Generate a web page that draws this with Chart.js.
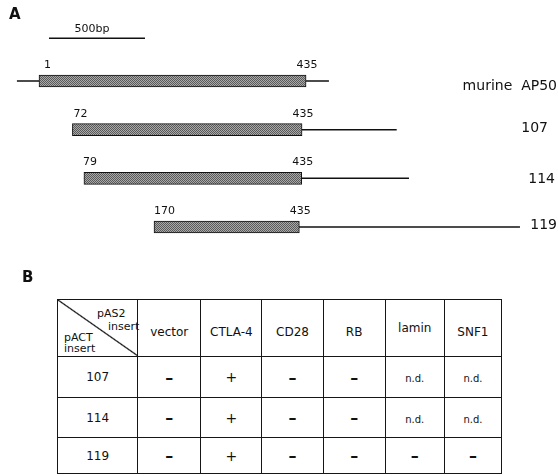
<!DOCTYPE html>
<html>
<head>
<meta charset="utf-8">
<script src="https://cdn.jsdelivr.net/npm/chart.js@4/dist/chart.umd.min.js"></script>
<style>
  html, body { margin: 0; padding: 0; background: #fff; }
  #wrap { position: relative; width: 558px; height: 476px; overflow: hidden; font-family: "DejaVu Sans", sans-serif; color: #111; }
  #cv { position: absolute; left: 0; top: 0; }
  .panel { position: absolute; font-weight: bold; font-size: 15px; font-family: "DejaVu Sans", sans-serif; }
  #tbl { position: absolute; left: 57px; top: 299px; border-collapse: collapse; table-layout: fixed; width: 445px; }
  #tbl td { border: 1.6px solid #161616; text-align: center; vertical-align: middle; font-size: 12px; padding: 0; }
  #tbl tr.hdr td { padding-top: 8px; }
  #tbl tr.hdr td.corner { padding: 0; }
  #tbl td.nd { font-size: 10px; padding-top: 3px; }
  #tbl td.neg { font-weight: bold; font-size: 16px; }
  #tbl td.pos { font-size: 14px; }
  .corner-box { position: relative; width: 80px; height: 56px;
    background: linear-gradient(to top right, transparent calc(50% - 1.2px), #111 50%, transparent calc(50% + 1.2px)); }
  .corner-box span { position: absolute; font-size: 11px; line-height: 11px; white-space: nowrap; }
</style>
</head>
<body>
<div id="wrap">
  <canvas id="cv" width="558" height="260"></canvas>
  <div class="panel" style="left:9px; top:5px;">A</div>
  <div class="panel" style="left:22px; top:268px;">B</div>
  <table id="tbl"></table>
</div>
<script>
// ---------- Panel A data (positions in bp) ----------
const categories   = ['murine  AP50', '107', '114', '119'];
const insertStart  = [0, 174, 234, 599];
const insertEnd    = [1391, 1370, 1368, 1356];
const seqStart     = [-115, 174, 234, 599];
const seqEnd       = [1510, 1863, 1927, 2505];
const startLabels  = ['1', '72', '79', '170'];
const endLabels    = ['435', '435', '435', '435'];
const scaleBar     = [52, 552];
const scaleBarLabel = '500bp';

// ---------- Panel B data ----------
const colHeaders = ['vector', 'CTLA-4', 'CD28', 'RB', 'lamin', 'SNF1'];
const rowHeaders = ['107', '114', '119'];
const results = [
  ['-', '+', '-', '-', 'n.d.', 'n.d.'],
  ['-', '+', '-', '-', 'n.d.', 'n.d.'],
  ['-', '+', '-', '-', '-', '-']
];

// ---------- layout (not data) ----------
const scaleBarRow = -0.88;
const startLabelDx = [5, 1, -1, 0];
const rowLabelRight = [557, 548, 555, 557];
const rowLabelDy = [5, -1, 1, -2];

// stipple pattern for the insert bars
function makePattern() {
  const c = document.createElement('canvas');
  c.width = 2; c.height = 2;
  const g = c.getContext('2d');
  g.fillStyle = '#a8a8a8'; g.fillRect(0, 0, 2, 2);
  g.fillStyle = '#5a5a5a'; g.fillRect(0, 0, 1, 1); g.fillRect(1, 1, 1, 1);
  return document.getElementById('cv').getContext('2d').createPattern(c, 'repeat');
}

const datasets = [];
datasets.push({
  type: 'bar',
  label: 'inserts',
  data: categories.map((c, i) => ({ x: [insertStart[i], insertEnd[i]], y: i })),
  backgroundColor: makePattern(),
  borderColor: '#111',
  borderWidth: 1,
  borderSkipped: false,
  barThickness: 12,
  order: 0
});
categories.forEach((c, i) => {
  datasets.push({
    type: 'line',
    label: c,
    data: [{ x: seqStart[i], y: i }, { x: seqEnd[i], y: i }],
    borderColor: '#111',
    borderWidth: 1.5,
    pointRadius: 0,
    order: 2
  });
});
datasets.push({
  type: 'line',
  label: 'scale',
  data: [{ x: scaleBar[0], y: scaleBarRow }, { x: scaleBar[1], y: scaleBarRow }],
  borderColor: '#111',
  borderWidth: 1.5,
  pointRadius: 0,
  order: 2
});

const labelPlugin = {
  id: 'labels',
  afterDatasetsDraw(chart) {
    const ctx = chart.ctx, xs = chart.scales.x, ys = chart.scales.y;
    ctx.save();
    ctx.fillStyle = '#111';
    ctx.textBaseline = 'alphabetic';
    ctx.font = '11px "DejaVu Sans", sans-serif';
    categories.forEach((c, i) => {
      const y = ys.getPixelForValue(i);
      ctx.textAlign = 'left';
      ctx.fillText(startLabels[i], xs.getPixelForValue(insertStart[i]) + startLabelDx[i], y - 13);
      ctx.textAlign = 'center';
      ctx.fillText(endLabels[i], xs.getPixelForValue(insertEnd[i]) + 1, y - 13);
    });
    ctx.font = '14px "DejaVu Sans", sans-serif';
    ctx.textAlign = 'right';
    ctx.textBaseline = 'middle';
    categories.forEach((c, i) => {
      const y = ys.getPixelForValue(i);
      ctx.fillText(c, rowLabelRight[i], y + rowLabelDy[i]);
    });
    ctx.font = '11px "DejaVu Sans", sans-serif';
    ctx.textAlign = 'center';
    ctx.textBaseline = 'alphabetic';
    const sy = ys.getPixelForValue(scaleBarRow);
    ctx.fillText(scaleBarLabel, (xs.getPixelForValue(scaleBar[0]) + xs.getPixelForValue(scaleBar[1])) / 2 - 5, sy - 6);
    ctx.restore();
  }
};

const pxPerBp = 0.192, x0px = 39, W = 558, H = 260;
const rowPx = 48.67, row0px = 81;
new Chart(document.getElementById('cv'), {
  type: 'bar',
  data: { datasets },
  options: {
    indexAxis: 'y',
    responsive: false,
    animation: false,
    devicePixelRatio: 1,
    layout: { padding: 0 },
    plugins: { legend: { display: false }, tooltip: { enabled: false }, title: { display: false } },
    scales: {
      x: { type: 'linear', display: false, offset: false, min: -x0px / pxPerBp, max: -x0px / pxPerBp + W / pxPerBp },
      y: { type: 'linear', display: false, offset: false, reverse: true, min: -row0px / rowPx, max: -row0px / rowPx + H / rowPx }
    }
  },
  plugins: [labelPlugin]
});

// ---------- table B ----------
(function buildTable() {
  const t = document.getElementById('tbl');
  const widths = [80, 63, 61, 61, 62, 59, 57];
  const cg = document.createElement('colgroup');
  widths.forEach(w => { const c = document.createElement('col'); c.style.width = w + 'px'; cg.appendChild(c); });
  t.appendChild(cg);
  const hr = document.createElement('tr');
  hr.className = 'hdr';
  hr.style.height = '56px';
  const corner = document.createElement('td');
  corner.className = 'corner';
  corner.innerHTML = '<div class="corner-box">' +
    '<span style="left:39px;top:8px;">pAS2</span>' +
    '<span style="left:50px;top:21px;">insert</span>' +
    '<span style="left:6px;top:32px;">pACT</span>' +
    '<span style="left:6px;top:43px;">insert</span></div>';
  hr.appendChild(corner);
  colHeaders.forEach(h => {
    const td = document.createElement('td');
    td.textContent = h;
    if (h === 'lamin') td.style.paddingTop = '0px';
    hr.appendChild(td);
  });
  t.appendChild(hr);
  const heights = [41, 40, 36];
  rowHeaders.forEach((r, i) => {
    const tr = document.createElement('tr');
    tr.style.height = heights[i] + 'px';
    const th = document.createElement('td');
    th.textContent = r;
    tr.appendChild(th);
    results[i].forEach(v => {
      const td = document.createElement('td');
      if (v === '-') { td.textContent = '–'; td.className = 'neg'; }
      else if (v === '+') { td.textContent = '+'; td.className = 'pos'; }
      else { td.textContent = v; td.className = 'nd'; }
      tr.appendChild(td);
    });
    t.appendChild(tr);
  });
})();
</script>
</body>
</html>
